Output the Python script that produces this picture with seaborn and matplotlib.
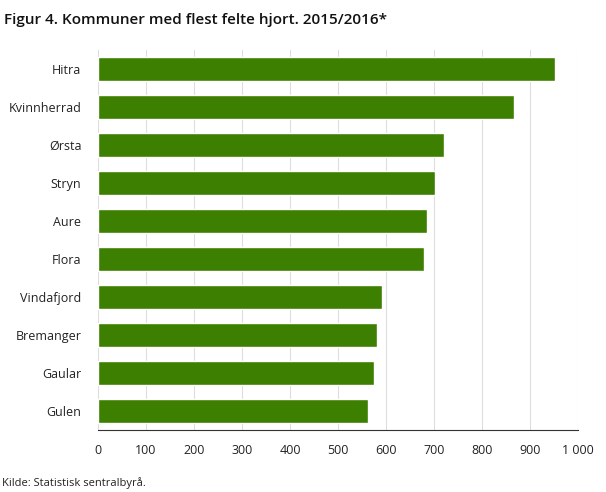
import matplotlib
matplotlib.use("Agg")
import matplotlib.pyplot as plt
import seaborn as sns
import pandas as pd

# -----------------------------
# Data
# -----------------------------
kommuner = ["Hitra", "Kvinnherrad", "Ørsta", "Stryn", "Aure", "Flora",
            "Vindafjord", "Bremanger", "Gaular", "Gulen"]
felte = [952, 866, 721, 702, 685, 679, 592, 581, 575, 562]
ticks = [0, 100, 200, 300, 400, 500, 600, 700, 800, 900, 1000]
tick_labels = ["0", "100", "200", "300", "400", "500", "600", "700", "800", "900", "1 000"]

df = pd.DataFrame({"kommune": kommuner, "felte": felte})

sns.set_style("white")
plt.rcParams["font.family"] = ["Open Sans", "DejaVu Sans"]

fig = plt.figure(figsize=(6.06, 4.92), dpi=100)
ax = fig.add_axes([98 / 606, 1 - 430 / 492, 480 / 606, 380 / 492])

sns.barplot(data=df, x="felte", y="kommune", color="#3d7f00",
            width=0.63, saturation=1, ax=ax)

ax.set_xlim(0, 1000)
ax.set_xticks(ticks)
ax.set_xticklabels(tick_labels)
ax.xaxis.grid(True, color="#dddddd", linewidth=0.8)
ax.set_axisbelow(True)
ax.set_xlabel("")
ax.set_ylabel("")
ax.tick_params(axis="both", length=0, labelsize=9, colors="#222222")
ax.tick_params(axis="y", pad=12)
ax.tick_params(axis="x", pad=10)
for side in ["top", "right", "left"]:
    ax.spines[side].set_visible(False)
ax.spines["bottom"].set_color("#333333")
ax.spines["bottom"].set_linewidth(0.8)

fig.text(4 / 606, 1 - 20 / 492, "Figur 4. Kommuner med flest felte hjort. 2015/2016*",
         fontsize=11, fontweight="semibold", va="center", color="#111111")
fig.text(2 / 606, 1 - 483 / 492, "Kilde: Statistisk sentralbyrå.",
         fontsize=8, va="center", color="#222222")

fig.savefig("out.png", dpi=100)
